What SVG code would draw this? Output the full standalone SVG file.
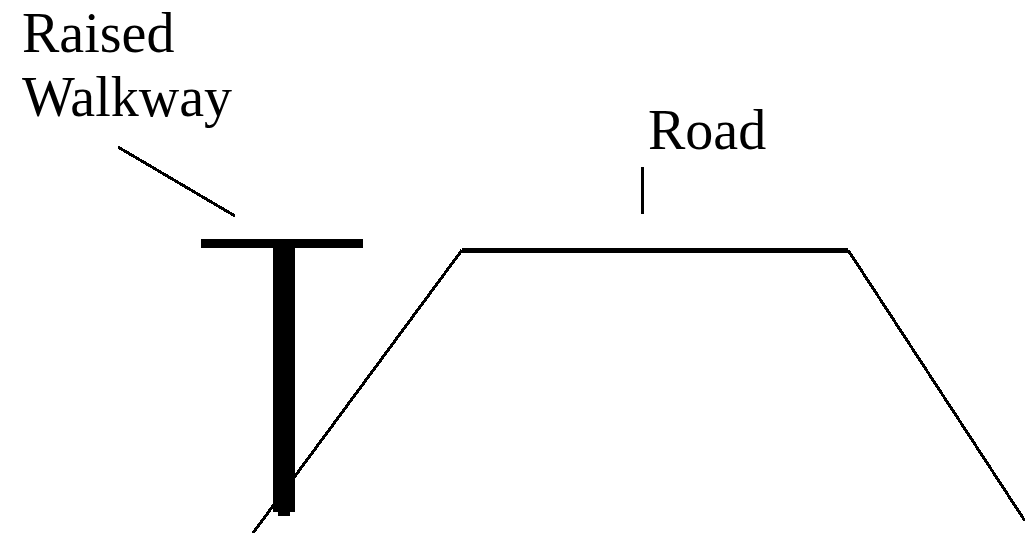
<svg xmlns="http://www.w3.org/2000/svg" width="1025" height="539" viewBox="0 0 1025 539">
<style>
.t{font-family:"Liberation Serif","Times New Roman",serif;font-size:56px;fill:#000}
.l{stroke:#000;fill:none;shape-rendering:crispEdges}
</style>
<rect width="1025" height="539" fill="#fff"/>
<g id="connectors">
<path class="l" stroke-width="3" d="M118 147L235 216"/>
<path class="l" stroke-width="3" d="M642 167V214"/>
<path class="l" stroke-width="3" d="M253 533L462 250"/>
<path class="l" stroke-width="5" d="M462 250H848"/>
<path class="l" stroke-width="3" d="M848 250L1025 521"/>
</g>
<g id="walkway" shape-rendering="crispEdges">
<rect x="201" y="239" width="162" height="9" fill="#000"/>
<path d="M273 248H295V512H290V516H278V512H273Z" fill="#000"/>
</g>
<g id="label-raised-walkway">
<text class="t" x="22" y="52">Raised</text>
<text class="t" x="22" y="116">Walkway</text>
</g>
<g id="label-road">
<text class="t" x="648" y="149">Road</text>
</g>
</svg>
